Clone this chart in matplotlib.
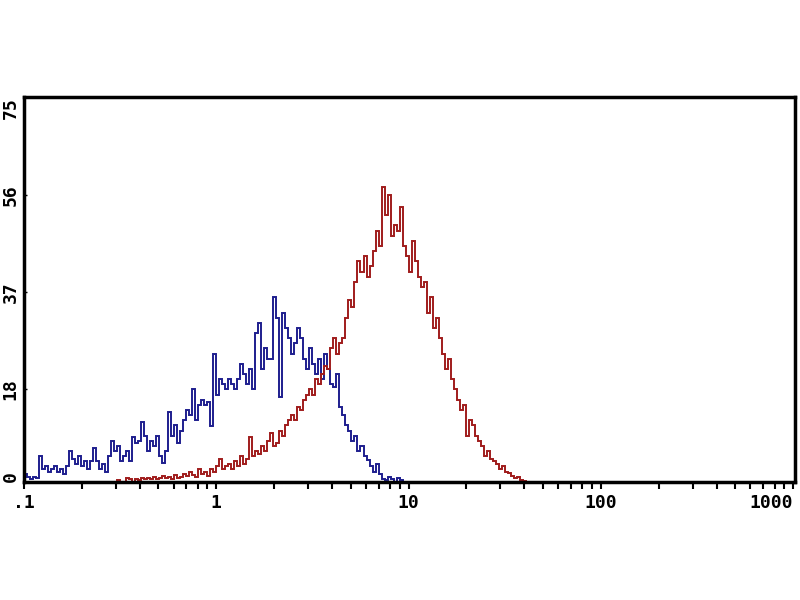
import numpy as np
import matplotlib
matplotlib.use("Agg")
import matplotlib.pyplot as plt
from matplotlib.ticker import FixedLocator, NullFormatter

# flow cytometry histograms, 64 channels per decade, 0.1 .. 1000
channels_per_decade = 64
n_channels = 256

# isotype control (blue), channels 0..127
blue_counts = [
    1.5, 1, 0.5, 1, 0.8, 5, 2.5, 3, 2, 2.5,
    3, 2, 2.5, 1.5, 3, 6, 4.5, 3.5, 5, 3,
    4, 2.5, 4, 6.6, 4, 2.5, 3.5, 2, 5, 8,
    6, 7, 4, 5, 6, 4, 8.7, 7.5, 8, 11.7,
    9, 6, 8, 7, 9, 5, 3.7, 6, 13.6, 9,
    11, 7.5, 10, 12, 14, 13, 18, 12, 15, 16,
    15, 15.5, 10.8, 25, 17, 20, 19, 18, 20, 19,
    18, 20, 23, 21, 19, 22, 18, 29, 31, 22,
    26, 24, 24, 36, 32, 16.5, 33, 30, 28, 25,
    27, 30, 28, 24, 22, 26, 23, 21, 24, 20,
    25, 22, 19, 18.5, 21, 14.6, 13, 11, 10, 8,
    9, 6, 7, 5, 4.3, 3, 2, 3.5, 1.5, 0.5,
    0.3, 1, 0.5, 0, 0.8, 0.3, 0, 0,
]

# stained sample (red), starting at channel 30
red_start = 30
red_counts = [
    0, 0.3, 0, 0, 0.8, 0.5, 0, 0.6, 0.4, 0.8,
    0.5, 0.7, 0.5, 1, 0.6, 0.8, 1.2, 0.7, 1, 0.5,
    1.3, 0.8, 1, 1.5, 1.2, 2, 1.4, 1, 2.5, 1.6,
    2, 1.2, 2.4, 2, 3, 4.5, 2.5, 3, 3.5, 2.5,
    4, 3, 5, 3.5, 4.5, 8.8, 5, 6, 5.5, 7,
    6, 8, 9.5, 7, 7.5, 10, 9, 11, 12, 13,
    12, 14.6, 14, 16, 17, 18, 17, 20, 19, 21,
    22.5, 22, 26, 28, 25, 27, 28, 32, 35.5, 34,
    39, 43, 41, 44, 40, 42, 45, 49, 46, 57.5,
    52, 56, 48, 50, 49, 53.5, 46, 44, 41, 47,
    43, 40, 38, 39, 33, 36, 30, 32, 28, 25,
    22, 24, 20, 18, 16, 14, 15, 9, 12, 11,
    9, 8, 7, 5, 6, 4.5, 4, 3.5, 2.5, 3,
    2, 1.8, 1.2, 0.8, 1, 0.4, 0.2,
]

y_ticks = [0, 18, 37, 56, 75]
x_ticks = [0.1, 1, 10, 100, 1000]
x_tick_labels = [".1", "1", "10", "100", "1000"]

edges = 10.0 ** (np.arange(n_channels + 1) / channels_per_decade - 1)

blue = np.zeros(n_channels)
blue[:len(blue_counts)] = blue_counts
red = np.zeros(n_channels)
red[red_start:red_start + len(red_counts)] = red_counts

fig = plt.figure(figsize=(8, 6), dpi=100)
ax = fig.add_axes([0.030, 0.197, 0.964, 0.641])

ax.stairs(blue, edges, color="#1e1e8e", linewidth=1.4)
ax.stairs(red, edges, color="#a01c1c", linewidth=1.4)

ax.set_xscale("log")
ax.set_xlim(0.1, 1025)
ax.set_ylim(0, 75)

font = dict(family="DejaVu Sans Mono", weight="bold", size=13)

ax.xaxis.set_major_locator(FixedLocator(x_ticks))
ax.set_xticklabels(x_tick_labels, fontdict=font)
ax.xaxis.set_minor_locator(FixedLocator(
    [m * 10.0 ** d for d in range(-1, 3) for m in range(2, 10)]))
ax.xaxis.set_minor_formatter(NullFormatter())
ax.tick_params(axis="x", which="both", direction="out", length=5, width=1.5, pad=4)
ax.get_xticklabels()[-1].set_horizontalalignment("right")

ax.set_yticks(y_ticks)
ax.set_yticklabels([str(v) for v in y_ticks], fontdict=font, rotation=90, va="center")
ax.tick_params(axis="y", direction="in", length=2, width=1, pad=3)
ylabels = ax.get_yticklabels()
ylabels[0].set_verticalalignment("bottom")
ylabels[-1].set_verticalalignment("top")

for side in ["left", "right", "top", "bottom"]:
    ax.spines[side].set_linewidth(2.5)

fig.savefig("out.png", dpi=100, facecolor="white")
